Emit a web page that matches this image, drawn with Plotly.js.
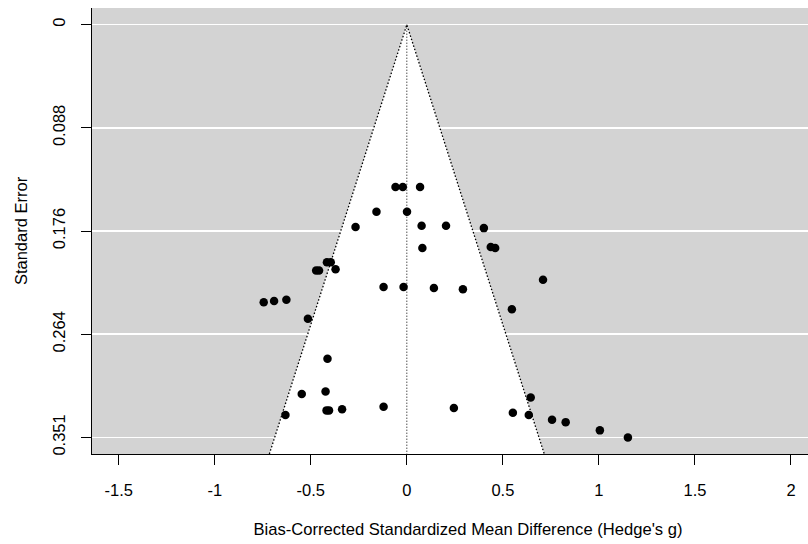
<!DOCTYPE html>
<html>
<head>
<meta charset="utf-8">
<script src="https://cdn.plot.ly/plotly-3.0.1.min.js"></script>
<style>html,body{margin:0;padding:0;background:#fff;overflow:hidden;width:808px;height:544px;}#chart{width:844px;height:544px;}</style>
</head>
<body>
<div id="chart"></div>
<script>
// Effect sizes (Hedge's g) and their standard errors
const hedgesG = [-0.059, -0.021, 0.069, -0.158, 0.001, -0.267, 0.077, 0.204, 0.401, 0.081,
  0.437, 0.460, -0.416, -0.396, -0.472, -0.457, -0.371, 0.709, -0.121, -0.017,
  0.141, 0.292, -0.745, -0.691, -0.627, 0.547, -0.515, -0.413, -0.547, -0.423,
  -0.418, -0.405, -0.337, -0.121, 0.245, -0.632, 0.645, 0.552, 0.635, 0.756,
  0.827, 1.005, 1.151];
const stdErr = [0.138, 0.138, 0.138, 0.159, 0.159, 0.172, 0.171, 0.171, 0.173, 0.190,
  0.189, 0.190, 0.202, 0.202, 0.209, 0.209, 0.208, 0.217, 0.223, 0.223,
  0.224, 0.225, 0.236, 0.235, 0.234, 0.242, 0.250, 0.284, 0.314, 0.312,
  0.328, 0.328, 0.327, 0.325, 0.326, 0.332, 0.317, 0.330, 0.332, 0.336,
  0.338, 0.345, 0.351];
const yTickLabels = ['0', '0.088', '0.176', '0.264', '0.351'];
const xTickValues = [-1.5, -1, -0.5, 0, 0.5, 1, 1.5, 2];
const xTickLabels = ['-1.5', '-1', '-0.5', '0', '0.5', '1', '1.5', '2'];
const pooledEffect = 0;
const seLimit = 0.3651;   // lower edge of the plotting region (y axis limit)
const zCrit = 1.96;

const maxSe = Math.max(...stdErr);
const yTickValues = yTickLabels.map((_, i) => maxSe * i / (yTickLabels.length - 1));

const fontFam = '"Liberation Sans", Arial, sans-serif';

const funnel = {
  x: [pooledEffect - zCrit * seLimit, pooledEffect, pooledEffect + zCrit * seLimit],
  y: [seLimit, 0, seLimit],
  mode: 'lines', fill: 'toself', fillcolor: '#ffffff',
  line: {color: '#000000', width: 1.3, dash: '1.5px,2px'},
  hoverinfo: 'skip', showlegend: false
};
const center = {
  x: [pooledEffect, pooledEffect], y: [0, seLimit],
  mode: 'lines', line: {color: '#000000', width: 1, dash: '1px,2px'},
  hoverinfo: 'skip', showlegend: false
};
const pts = {
  x: hedgesG, y: stdErr, mode: 'markers', type: 'scatter',
  marker: {color: '#000000', size: 8.5, line: {width: 0}},
  showlegend: false
};

const layout = {
  width: 844, height: 544,
  margin: {l: 92, r: 0, t: 8, b: 90, pad: 0},
  paper_bgcolor: '#ffffff', plot_bgcolor: '#d3d3d3',
  font: {family: fontFam, size: 16, color: '#000000'},
  showlegend: false,
  xaxis: {
    range: [-1.639, 2.276], tickvals: xTickValues, ticktext: xTickLabels,
    ticks: 'outside', ticklen: 10, tickwidth: 1, tickcolor: '#000000',
    showgrid: false, zeroline: false, showline: true, linecolor: '#000000', linewidth: 1,
    tickfont: {family: fontFam, size: 16.5, color: '#000'},
    ticklabelstandoff: 11,
    title: {text: "Bias-Corrected Standardized Mean Difference (Hedge's g)", font: {family: fontFam, size: 16.6, color: '#000'}, standoff: 25}
  },
  yaxis: {
    range: [seLimit, -0.0142], tickvals: yTickValues, ticktext: yTickLabels,
    ticks: 'outside', ticklen: 10, tickwidth: 1, tickcolor: '#000000', tickangle: -90,
    showgrid: true, gridcolor: '#ffffff', gridwidth: 1.5,
    zeroline: false, showline: true, linecolor: '#000000', linewidth: 1,
    tickfont: {family: fontFam, size: 16.5, color: '#000'},
    ticklabelstandoff: 9,
    title: {text: 'Standard Error', font: {family: fontFam, size: 16.5, color: '#000'}, standoff: 18}
  }
};

Plotly.newPlot('chart', [funnel, center, pts], layout, {displayModeBar: false, staticPlot: true});
</script>
</body>
</html>
